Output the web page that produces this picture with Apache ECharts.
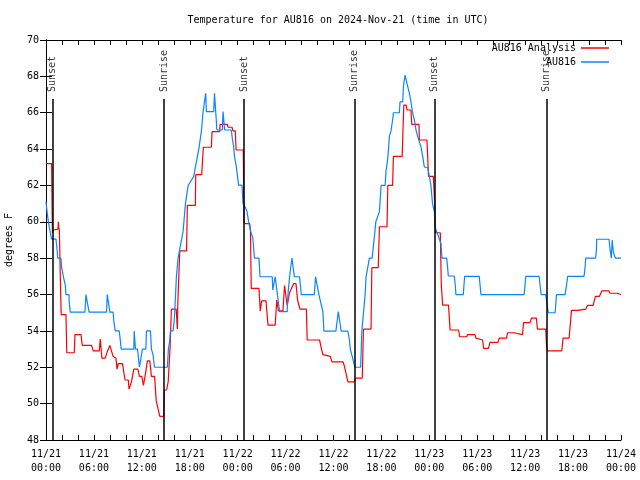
<!DOCTYPE html>
<html><head><meta charset="utf-8">
<script src="https://cdn.jsdelivr.net/npm/echarts/dist/echarts.min.js"></script>
<style>html,body{margin:0;padding:0;background:#fff}#c{width:640px;height:480px}</style>
</head><body><div id="c"></div>
<script>
// Hours since 2024-11-21 00:00 UTC
const analysisHours = [0,0.7,0.8,0.92,1.0,1.5,1.55,1.6,1.67,1.83,1.9,2.5,2.6,3.54,3.63,4.38,4.54,5.29,5.5,5.7,5.92,6.67,6.8,6.88,7.0,7.42,7.7,8.0,8.2,8.4,8.75,8.9,9.04,9.58,9.75,9.9,10.3,10.4,10.7,11.0,11.5,11.7,12.0,12.2,12.4,12.6,12.7,13.0,13.2,13.6,13.8,14.0,14.25,14.75,14.8,15.1,15.3,15.5,15.54,15.6,15.7,16.3,16.4,16.45,16.5,16.75,17.6,17.7,18.7,18.75,19.5,19.7,20.7,20.8,21.75,21.8,22.7,22.8,23.3,23.4,23.7,23.8,24.7,24.8,25.5,25.6,25.7,26.67,26.75,26.83,27.0,27.55,27.6,27.8,28.7,28.75,28.9,29.1,29.67,29.87,30.08,30.2,30.3,30.5,30.8,31.0,31.3,31.5,31.75,31.8,32.6,32.7,34.25,34.5,34.67,34.9,35.6,35.8,37.2,37.4,37.6,37.8,38.6,38.75,39.6,39.75,40.7,40.8,41.6,41.75,42.7,42.8,43.4,43.5,44.6,44.8,45.1,45.2,45.7,45.8,46.7,46.75,47.7,47.9,48.5,48.67,48.75,49.375,49.5,49.67,50.4,50.6,51.67,51.79,52.67,52.79,53.7,53.83,54.04,54.67,54.8,55.4,55.6,56.6,56.75,57.67,57.8,58.6,58.75,59.67,59.8,60.6,60.8,61.4,61.54,62.58,62.67,62.8,64.58,64.75,65.5,65.8,66.6,66.7,67.6,67.8,68.5,68.8,69.3,69.6,70.5,70.6,71.5,72];
const analysisTemps = [63.2,63.2,59.4,59.55,59.6,59.6,60.0,59.7,59.55,56.2,54.9,54.9,52.8,52.8,53.8,53.8,53.2,53.2,53.25,53.2,52.9,52.9,53.55,53.55,52.5,52.5,52.9,53.2,53.2,52.6,52.5,51.9,52.2,52.2,51.7,51.3,51.3,50.8,51.2,51.9,51.9,51.5,51.5,51.0,51.5,51.5,52.35,52.35,51.5,51.5,50.15,50.15,49.3,49.3,50.75,50.75,51.2,51.2,53.1,53.1,55.2,55.2,55.2,54.1,55.5,58.4,58.4,60.9,60.9,62.6,62.6,64.1,64.1,64.96,64.96,65.36,65.36,65.2,65.2,65.0,65.0,63.95,63.95,59.9,59.9,59.55,56.34,56.34,55.7,55.08,55.65,55.65,55.36,54.32,54.32,54.7,55.7,55.1,55.1,56.5,56.5,55.4,55.4,56.1,56.4,56.6,56.6,55.7,55.7,55.2,55.2,53.5,53.5,53.0,52.7,52.6,52.6,52.3,52.3,52.0,52.0,51.2,51.2,51.4,51.4,54.1,54.1,57.48,57.48,59.73,59.73,62.0,62.0,63.6,63.6,66.42,66.42,66.15,66.15,65.36,65.36,64.5,64.5,62.5,62.5,61.0,59.4,59.4,56.5,55.42,55.42,54.05,54.05,53.68,53.68,53.8,53.8,53.6,53.5,53.5,53.04,53.04,53.37,53.37,53.6,53.6,53.9,53.9,53.8,53.8,54.46,54.46,54.7,54.7,54.1,54.1,53.2,52.9,52.9,53.6,53.6,55.13,55.13,55.2,55.2,55.4,55.4,55.9,55.9,56.2,56.2,56.07,56.07,56.0];
const observedHours = [0,0.15,0.3,0.5,0.7,1.25,1.33,1.42,1.46,1.875,1.96,2.17,2.42,2.5,2.875,2.9,3.04,4.875,5.0,5.08,5.2,5.4,7.58,7.67,7.875,8.0,8.4,8.5,8.67,9.17,9.25,9.42,11.0,11.04,11.2,11.46,11.58,11.7,11.9,12.08,12.5,12.58,13.08,13.2,13.4,13.58,15.2,15.33,15.5,15.58,15.9,16.04,16.125,16.33,16.54,16.75,16.96,17.17,17.46,17.8,18.5,18.7,19.17,19.46,19.67,19.875,20.0,20.08,21.0,21.1,21.25,21.4,22.08,22.17,22.25,22.37,23.2,23.33,23.5,23.6,23.83,24.12,24.54,24.67,24.96,25.17,25.375,25.58,25.9,26.1,26.67,26.8,28.33,28.4,28.7,28.96,29.25,30.2,30.3,30.5,30.8,31.1,31.75,31.96,33.6,33.75,34.0,34.17,34.67,34.8,36.3,36.6,36.75,36.96,37.8,38.0,38.1,38.25,38.4,38.67,39.4,39.55,39.8,39.96,40.08,40.5,40.83,41.1,41.3,41.75,41.96,42.46,42.58,42.8,43.0,43.2,43.4,43.5,44.25,44.33,44.67,44.75,44.875,44.96,45.2,45.3,45.5,45.58,45.7,45.9,46.125,46.33,46.54,46.75,46.96,47.17,47.375,47.8,48.0,48.2,48.4,48.625,48.79,49.17,49.375,49.46,49.58,50.17,50.29,50.375,51.125,51.25,51.33,52.25,52.42,54.25,54.46,59.875,60.08,61.75,61.875,62.0,62.58,62.9,63.75,63.92,65.0,65.17,65.33,67.375,67.5,67.58,68.83,68.92,68.96,70.5,70.625,70.79,70.9,71.0,71.125,71.33,72];
const observedTemps = [61.1,60.5,60.0,59.5,59.05,59.05,58.7,58.3,58.0,58.0,57.5,57.0,56.5,56.0,56.0,55.6,55.03,55.03,56.0,56.0,55.5,55.03,55.03,56.0,56.0,55.03,55.03,54.5,54.0,54.0,53.7,53.0,53.0,54.0,53.0,53.0,52.5,52.0,52.0,53.0,53.0,54.0,54.0,53.0,52.7,52.0,52.0,53.0,53.5,54.0,54.0,54.5,55.1,57.0,58.0,58.5,59.0,59.5,61.0,62.0,62.5,63.0,64.1,65.0,66.06,66.7,67.07,66.06,66.06,67.07,66.06,65.05,65.05,66.06,66.06,65.05,65.05,64.6,64.13,63.6,63.03,62.02,62.02,61.0,60.8,60.56,60.0,59.55,59.1,58.0,58.0,56.98,56.98,56.25,56.98,56.06,55.06,55.06,56.0,56.98,58.0,56.98,56.98,56.0,56.0,56.98,56.98,56.0,55.06,53.99,53.99,55.06,55.06,53.99,53.99,53.5,53.0,53.0,52.5,52.0,52.0,53.99,53.99,56.0,56.98,58.0,58.0,59.1,60.0,60.56,62.0,62.0,62.8,63.5,64.7,65.0,65.6,66.0,66.0,66.6,66.6,67.43,67.43,68.07,68.07,67.43,67.07,67.07,66.6,66.0,65.6,65.05,64.7,64.4,64.1,63.6,63.0,63.0,62.5,62.0,61.0,60.56,59.6,59.18,59.18,58.78,58.0,58.0,57.5,57.02,57.02,56.5,56.0,56.0,57.0,57.0,56.0,56.0,57.0,57.0,56.5,56.0,56.0,55.0,55.0,56.0,56.0,56.5,57.0,57.0,57.5,58.0,58.0,58.5,59.04,59.04,58.5,58.0,59.0,58.5,58.2,58.0,58.0];
const sunNames = ['Sunset','Sunrise','Sunset','Sunrise','Sunset','Sunrise'];
const sunHours = [0.79,14.79,24.79,38.66,48.66,62.66];
const seriesNames = ['AU816 Analysis','AU816'];

const FONT = 'DejaVu Sans Mono';
const zip = (a,b) => a.map((v,i)=>[v,b[i]]);
const pad = n => (n<10?'0':'')+n;
const fmtX = v => {
  if (v % 6 !== 0) return '';
  const day = 21 + Math.floor(v/24);
  const hh = v % 24;
  return '11/' + day + '\n' + pad(hh) + ':00';
};
const chart = echarts.init(document.getElementById('c'), null, {renderer:'canvas'});
const tick = {show:true, inside:true, length:5, lineStyle:{color:'#000', width:1}};
const line = {show:true, lineStyle:{color:'#000', width:1}};
chart.setOption({
  animation:false,
  backgroundColor:'#fff',
  textStyle:{fontFamily:FONT},
  title:{text:'Temperature for AU816 on 2024-Nov-21 (time in UTC)', left:333, top:10, textAlign:'center',
    textStyle:{fontFamily:FONT, fontSize:10, fontWeight:'normal', color:'#000'}},
  legend:[
    {data:[{name:seriesNames[0], icon:'rect'}], right:31, top:43, padding:0, align:'right', itemWidth:28, itemHeight:1.5, itemGap:6,
      textStyle:{fontFamily:FONT, fontSize:10, color:'#000'}, selectedMode:false},
    {data:[{name:seriesNames[1], icon:'rect'}], right:31, top:57, padding:0, align:'right', itemWidth:28, itemHeight:1.5, itemGap:6,
      textStyle:{fontFamily:FONT, fontSize:10, color:'#000'}, selectedMode:false}
  ],
  grid:{left:46, right:19, top:40, bottom:40, show:false, containLabel:false, outerBoundsMode:'none'},
  xAxis:[
    {type:'value', min:0, max:72, interval:2, axisLine:line, axisTick:tick, splitLine:{show:false},
      axisLabel:{formatter:fmtX, color:'#000', fontFamily:FONT, fontSize:10, margin:7, lineHeight:14, showMinLabel:true, showMaxLabel:true}},
    {type:'value', min:0, max:72, interval:2, position:'top', axisLine:line, axisTick:tick, splitLine:{show:false}, axisLabel:{show:false}}
  ],
  yAxis:[
    {type:'value', min:48, max:70, interval:2, axisLine:line, axisTick:{...tick, length:6}, splitLine:{show:false},
      axisLabel:{color:'#000', fontFamily:FONT, fontSize:10, margin:7},
      name:'degrees F', nameLocation:'middle', nameGap:32, nameRotate:90,
      nameTextStyle:{fontFamily:FONT, fontSize:10, color:'#000'}},
    {type:'value', min:48, max:70, interval:2, position:'right', axisLine:line, axisTick:{...tick, length:6}, splitLine:{show:false}, axisLabel:{show:false}}
  ],
  series:[
    {name:seriesNames[0], type:'line', data:zip(analysisHours, analysisTemps), showSymbol:false, symbol:'none',
      lineStyle:{color:'#ff0000', width:1.2}, itemStyle:{color:'#ff0000'}, z:3},
    {name:seriesNames[1], type:'line', data:zip(observedHours, observedTemps), showSymbol:false, symbol:'none',
      lineStyle:{color:'#0a84ff', width:1.2}, itemStyle:{color:'#0a84ff'}, z:4},
    {name:'sun', type:'scatter', symbolSize:0, silent:true, z:5,
      data:sunHours.map((h,i)=>({value:[h,67.14], name:sunNames[i]})),
      label:{show:true, formatter:p=>p.name, rotate:90, position:[0,0], align:'left', verticalAlign:'middle',
        fontFamily:FONT, fontSize:10, color:'#000'},
      markLine:{silent:true, symbol:['none','none'], label:{show:false},
        lineStyle:{color:'#000', width:1.5, type:'solid'},
        data:sunHours.map(h=>[{coord:[h,48]},{coord:[h,66.75]}])}
    }
  ]
});
</script></body></html>
